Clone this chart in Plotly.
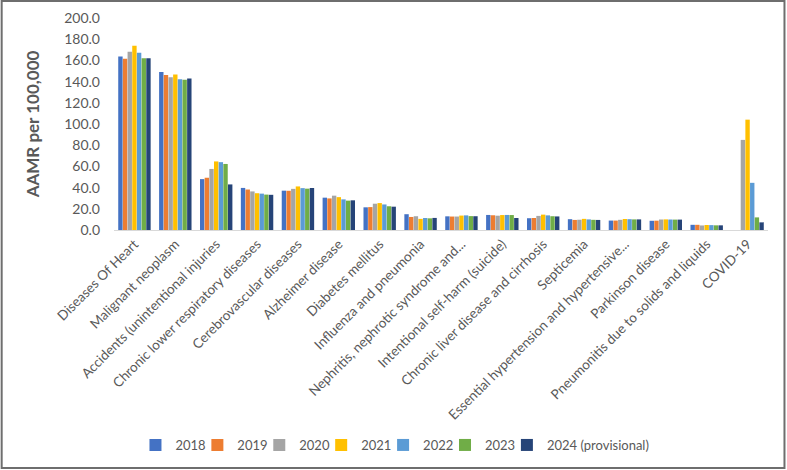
import plotly.graph_objects as go

categories = [
    "Diseases Of Heart", "Malignant neoplasm", "Accidents (unintentional injuries",
    "Chronic lower respiratory diseases", "Cerebrovascular diseases", "Alzheimer disease",
    "Diabetes mellitus", "Influenza and pneumonia", "Nephritis, nephrotic syndrome and...",
    "Intentional self-harm (suicide)", "Chronic liver disease and cirrhosis", "Septicemia",
    "Essential hypertension and hypertensive...", "Parkinson disease",
    "Pneumonitis due to solids and liquids", "COVID-19",
]

years = ["2018", "2019", "2020", "2021", "2022", "2023", "2024 (provisional)"]

v2018 = [163.6, 149.1, 48.0, 39.7, 37.1, 30.5, 21.4, 14.9, 12.9, 14.2, 11.1, 10.2, 8.9, 8.7, 4.9, None]
v2019 = [161.5, 146.2, 49.3, 38.2, 37.0, 29.8, 21.6, 12.3, 12.7, 13.9, 11.3, 9.5, 8.9, 8.8, 4.9, None]
v2020 = [168.2, 144.1, 57.6, 36.4, 38.8, 32.4, 24.8, 13.0, 12.7, 13.5, 13.3, 9.7, 9.6, 9.9, 4.3, 85.0]
v2021 = [173.8, 146.6, 64.7, 34.7, 41.1, 31.0, 25.4, 10.5, 13.6, 14.1, 14.5, 10.5, 10.4, 10.0, 4.7, 104.1]
v2022 = [167.2, 142.3, 64.0, 34.3, 39.5, 28.9, 24.1, 11.3, 13.8, 14.2, 13.8, 10.0, 10.2, 9.9, 4.6, 44.5]
v2023 = [162.1, 141.8, 62.3, 33.4, 39.0, 27.7, 22.4, 11.0, 13.1, 14.1, 13.0, 9.6, 10.0, 9.8, 4.4, 11.9]
v2024 = [162.0, 142.9, 43.0, 33.2, 39.6, 28.0, 22.0, 11.4, 13.0, 11.3, 12.8, 9.5, 10.0, 9.8, 4.4, 7.2]

series = [v2018, v2019, v2020, v2021, v2022, v2023, v2024]
colors = ["#4472C4", "#ED7D31", "#A5A5A5", "#FFC000", "#5B9BD5", "#70AD47", "#264478"]

FONT = "Lato"
GRAY = "#595959"

W, H = 787, 470
L, R, T, B = 113.5, 18.5, 18, 240
pw, ph = W - L - R, H - T - B

LEG_START = 135
STEP = 62
leg_y = (T + ph - 445) / ph

fig = go.Figure()
legends = {}
for i, (name, vals, col) in enumerate(zip(years, series, colors)):
    key = "legend" if i == 0 else f"legend{i + 1}"
    fig.add_trace(go.Bar(x=categories, y=vals, name=name, legend=key,
                         marker=dict(color=col, line=dict(width=0))))
    legends[key] = dict(orientation="h", x=(LEG_START + i * STEP - L) / pw, xanchor="left",
                        y=leg_y, yanchor="middle", bgcolor="rgba(0,0,0,0)",
                        font=dict(size=13, color=GRAY), itemwidth=30)

fig.update_layout(
    width=W, height=H,
    margin=dict(l=L, r=R, t=T, b=B, autoexpand=False),
    paper_bgcolor="white", plot_bgcolor="white",
    barmode="group", bargap=0.2, bargroupgap=0.06,
    font=dict(family=FONT, color=GRAY, size=13),
    showlegend=True,
    xaxis=dict(type="category", tickangle=-45, showline=True, linecolor="#D9D9D9",
               linewidth=1, showgrid=False, ticks="", automargin=False,
               tickfont=dict(size=13.5, color=GRAY)),
    yaxis=dict(range=[0, 200], dtick=20, tickformat=".1f", showgrid=False,
               zeroline=False, showline=False, ticks="", automargin=False,
               ticklabelstandoff=13,
               tickfont=dict(size=14, color=GRAY),
               title=dict(text="<b>AAMR per 100,000</b>", standoff=20,
                          font=dict(size=17, color=GRAY))),
    shapes=[dict(type="rect", xref="paper", yref="paper",
                 x0=(1 - L) / pw, x1=(W - 2 - L) / pw,
                 y0=(T + ph - (H - 2)) / ph,
                 y1=(T + ph - 1) / ph,
                 line=dict(color="#6E6E6E", width=2), fillcolor="rgba(0,0,0,0)",
                 layer="above")],
    **legends,
)

fig.write_html("out.html")
